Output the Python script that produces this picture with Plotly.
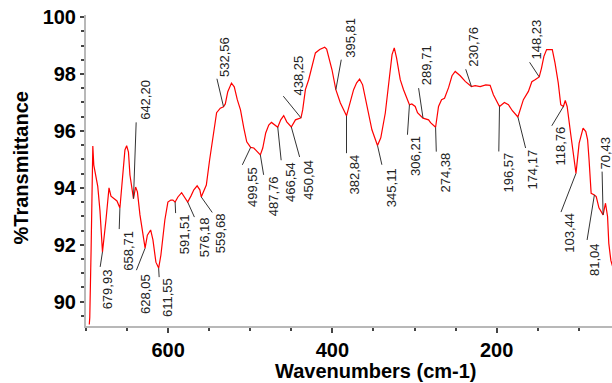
import plotly.graph_objects as go

# ---- spectrum data (wavenumber cm-1, %T) ----
wavenumber = [696.0, 695.4, 693.8, 691.7, 690.5, 688.0, 685.7, 683.0, 679.93, 675.7,
              672.0, 669.6, 666.0, 662.3, 658.71, 656.2, 652.6, 650.5, 648.3, 646.5,
              642.20, 639.6, 637.4, 634.3, 628.05, 625.3, 621.3, 618.5, 614.9, 611.55,
              608.8, 604.0, 600.3, 596.7, 594.2, 591.51, 588.1, 583.6, 580.8, 576.18,
              572.3, 568.7, 564.7, 561.4, 559.68, 553.5, 549.5, 545.5, 541.0, 536.5,
              532.56, 530.4, 527.4, 522.9, 519.5, 515.8, 511.9, 507.9, 504.3, 499.55,
              495.7, 487.76, 484.8, 481.2, 477.5, 474.2, 466.54, 462.9, 459.3, 455.6,
              450.04, 445.0, 438.25, 436.2, 432.9, 428.9, 425.2, 420.7, 415.5, 409.4,
              407.0, 403.3, 400.5, 395.81, 390.3, 382.84, 374.2, 370.5, 366.9, 363.2,
              358.4, 351.9, 345.11, 341.1, 335.6, 332.2, 329.5, 327.4, 324.7, 321.9,
              317.4, 313.4, 306.21, 303.3, 299.2, 296.4, 289.71, 286.9, 282.9, 280.5,
              274.38, 270.8, 267.1, 263.5, 258.6, 254.4, 250.5, 244.4, 238.3, 230.76,
              226.2, 220.1, 213.3, 208.0, 204.0, 196.57, 190.6, 185.7, 180.9, 174.17,
              167.5, 161.4, 157.2, 153.3, 148.23, 145.5, 142.5, 139.2, 132.3, 129.0,
              125.0, 122.0, 118.76, 116.5, 114.2, 110.0, 103.44, 99.6, 94.8, 91.5,
              89.3, 87.5, 85.0, 81.04, 78.8, 75.5, 70.43, 67.5, 65.0, 63.5,
              61.0, 59.0]
transmittance = [89.20, 89.45, 91.80, 95.47, 94.80, 94.45, 94.05, 93.20, 91.75, 92.87,
                 94.00, 93.71, 93.64, 93.54, 93.29, 94.10, 95.33, 95.48, 95.26, 94.45,
                 93.62, 94.03, 93.86, 93.05, 91.88, 92.34, 92.52, 92.17, 91.39, 91.18,
                 91.64, 92.87, 93.50, 93.57, 93.57, 93.50, 93.68, 93.83, 93.71, 93.50,
                 93.71, 93.93, 94.07, 93.93, 93.68, 94.10, 94.98, 95.69, 96.64, 96.80,
                 96.85, 96.95, 97.38, 97.68, 97.55, 97.10, 96.74, 96.11, 95.62, 95.42,
                 95.40, 95.16, 95.40, 95.93, 96.21, 96.30, 96.13, 96.39, 96.54, 96.32,
                 96.14, 96.39, 96.46, 96.74, 97.45, 97.80, 98.22, 98.74, 98.86, 98.94,
                 98.88, 98.50, 98.15, 97.45, 96.98, 96.53, 97.45, 97.69, 97.82, 97.62,
                 96.92, 96.04, 95.49, 95.76, 96.63, 97.45, 98.15, 98.68, 98.92, 98.57,
                 97.80, 97.45, 96.92, 96.95, 96.86, 96.64, 96.45, 96.42, 96.39, 96.29,
                 96.13, 96.86, 97.10, 97.15, 97.52, 97.94, 98.09, 97.94, 97.74, 97.56,
                 97.59, 97.56, 97.62, 97.60, 97.27, 96.86, 97.00, 96.92, 96.71, 96.49,
                 97.10, 97.39, 97.73, 97.80, 97.90, 98.20, 98.62, 98.86, 98.86, 98.39,
                 97.68, 96.92, 96.86, 97.07, 96.86, 95.92, 94.51, 95.57, 96.10, 95.98,
                 95.69, 94.98, 93.81, 93.75, 93.69, 93.30, 93.05, 93.46, 92.99, 92.05,
                 91.45, 91.25]

# ---- labelled peaks ----
peak_wn = [679.93, 658.71, 642.20, 628.05, 611.55, 591.51, 576.18, 559.68, 532.56,
           499.55, 487.76, 466.54, 450.04, 438.25, 395.81, 382.84, 345.11, 306.21,
           289.71, 274.38, 230.76, 196.57, 174.17, 148.23, 118.76, 103.44, 81.04, 70.43]

# leader line end and text centre, pixel offsets from the peak point (x right, y down)
line_dx = [-2.3, -0.7, 2.7, -8.7, 0.5, 0.5, 6.7, 11.0, -6.6, -8.3, 3.3, 3.4, 8.3, -17.7,
           5.4, 0.0, 4.4, -2.0, -4.4, 0.7, -5.7, -0.7, 7.7, -9.6, -11.6, -15.0, -7.3, -1.0]
line_dy = [15, 21, -76.3, 22, 9, 11, 15, 15.5, -28, 17.4, 20, 33, 30, -21.7,
           -30, 37.3, 19.3, 30, -30, 24.4, -17.3, 45, 31, -14.6, 19.3, 38.7, 45, -43.3]
text_dx = [5, 7.7, 11.7, -0.3, 8.8, 8.8, 16.2, 20, 1.7, 1.7, 12.6, 12, 17.6, -2.7,
           15, 8.3, 13.4, 6.7, 4.3, 10, 2.6, 9.3, 15, -2.3, -3.3, -7.3, 0, 2.5]
text_dy = [37, 43, -99, 46, 29.5, 32.3, 35.3, 36, -50, 39.2, 41.5, 55, 52.8, -42.7,
           -51.7, 58.8, 41.8, 51, -53.3, 45.7, -39.8, 66.3, 52.7, -37.3, 40, 59.7, 64.7, -62]

y_ticks = [90, 92, 94, 96, 98, 100]
x_ticks = [600, 400, 200]

lookup = dict(zip(wavenumber, transmittance))
peak_t = [lookup[w] for w in peak_wn]

FONT = "Liberation Sans, Arial, sans-serif"

fig = go.Figure()
fig.add_trace(go.Scatter(x=wavenumber, y=transmittance, mode="lines",
                         line=dict(color="#ff0000", width=1.2), showlegend=False,
                         hoverinfo="skip"))

shapes = []
annotations = []
for i, w in enumerate(peak_wn):
    shapes.append(dict(type="line", xref="x", yref="y",
                       xsizemode="pixel", ysizemode="pixel",
                       xanchor=w, yanchor=peak_t[i],
                       x0=0, y0=0, x1=line_dx[i], y1=-line_dy[i],
                       line=dict(color="#333333", width=1)))
    annotations.append(dict(x=w, y=peak_t[i], xref="x", yref="y",
                            text=f"{w:.2f}".replace(".", ","),
                            showarrow=False, textangle=-90,
                            xshift=text_dx[i], yshift=-text_dy[i],
                            font=dict(family=FONT, size=13, color="#222222")))

annotations.append(dict(x=-0.1236, y=0.5096, xref="paper", yref="paper",
                        text="%Transmittance", textangle=-90, showarrow=False,
                        xanchor="center", yanchor="middle",
                        font=dict(family=FONT, size=20, color="#000000", weight="bold")))
annotations.append(dict(x=0.551, y=-0.145, xref="paper", yref="paper",
                        text="Wavenumbers (cm-1)", showarrow=False,
                        xanchor="center", yanchor="middle",
                        font=dict(family=FONT, size=20, color="#000000", weight="bold")))

fig.update_layout(
    width=612, height=383,
    margin=dict(l=86, r=0, t=15, b=57, autoexpand=False),
    paper_bgcolor="white", plot_bgcolor="white",
    shapes=shapes, annotations=annotations,
    xaxis=dict(range=[700, 59.6], tickvals=x_ticks, ticks="outside", ticklen=5,
               tickcolor="#444444", tickwidth=1.5, showgrid=False, zeroline=False,
               showline=True, linecolor="#b8b8b8", linewidth=2, automargin=False,
               tickfont=dict(family=FONT, size=20, color="#000000", weight="bold"),
               minor=dict(dtick=50, tick0=0, ticks="outside", ticklen=3,
                          tickcolor="#444444", showgrid=False)),
    yaxis=dict(range=[89.146, 100.074], tickvals=y_ticks, ticks="outside", ticklen=4,
               tickcolor="#444444", tickwidth=1.5, showgrid=False, zeroline=False,
               showline=True, linecolor="#b8b8b8", linewidth=2, automargin=False,
               tickfont=dict(family=FONT, size=20, color="#000000", weight="bold"),
               minor=dict(dtick=0.5, tick0=0, ticks="outside", ticklen=3,
                          tickcolor="#444444", showgrid=False)),
)

fig.write_html("out.html", config={"displayModeBar": False},
               post_script="document.body.style.margin='0';document.body.style.padding='0';document.body.style.overflow='hidden';")
